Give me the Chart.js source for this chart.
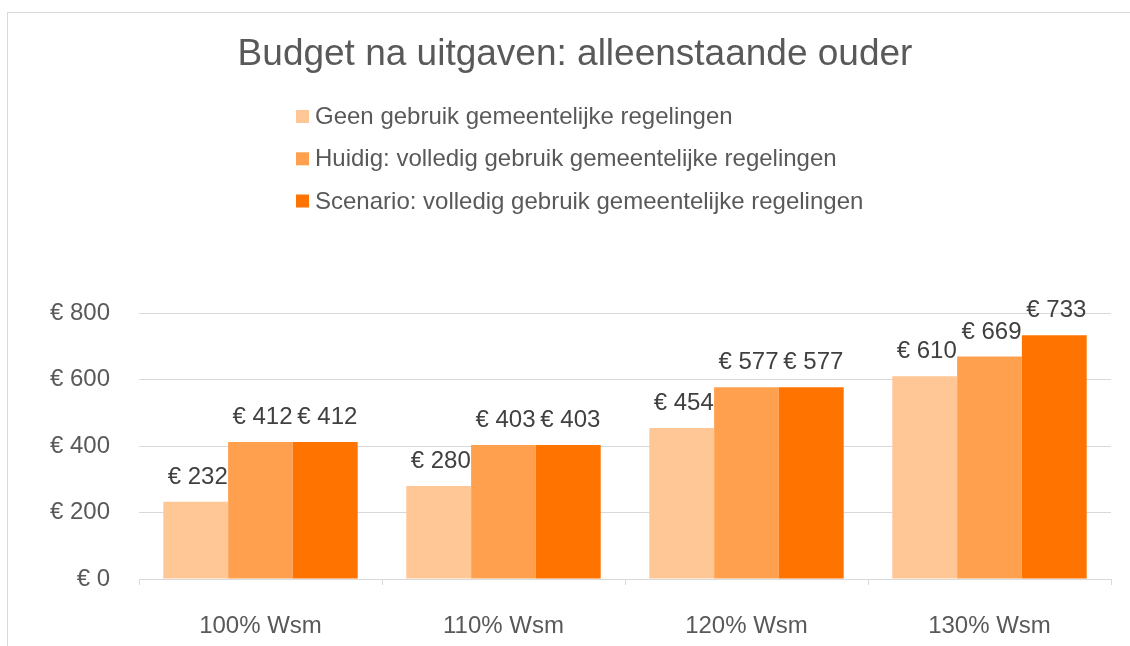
<!DOCTYPE html>
<html>
<head>
<meta charset="utf-8">
<script src="https://cdn.jsdelivr.net/npm/chart.js@4.4.1/dist/chart.umd.min.js"></script>
<style>
  html, body { margin: 0; padding: 0; background: #ffffff; overflow: hidden; }
  #frame { position: absolute; left: 7px; top: 12px; width: 1300px; height: 800px; border: 1px solid #d9d9d9; box-sizing: border-box; }
  #wrap { position: absolute; left: 0; top: 0; width: 1130px; height: 646px; }
</style>
</head>
<body>
<div id="frame"></div>
<div id="wrap"><canvas id="c" width="1130" height="646"></canvas></div>
<script>
const titleText = 'Budget na uitgaven: alleenstaande ouder';
const categories = ['100% Wsm', '110% Wsm', '120% Wsm', '130% Wsm'];
const seriesNames = [
  'Geen gebruik gemeentelijke regelingen',
  'Huidig: volledig gebruik gemeentelijke regelingen',
  'Scenario: volledig gebruik gemeentelijke regelingen'
];
const geenValues = [232, 280, 454, 610];
const huidigValues = [412, 403, 577, 669];
const scenarioValues = [412, 403, 577, 733];
const yTicks = [0, 200, 400, 600, 800];
const colors = ['#FFC796', '#FFA04F', '#FF7300'];

const FONT = '"Liberation Sans", Arial, sans-serif';

const overlay = {
  id: 'overlay',
  afterDatasetsDraw(chart) {
    const ctx = chart.ctx;
    ctx.save();
    ctx.font = '24px ' + FONT;
    ctx.fillStyle = '#404040';
    ctx.textAlign = 'center';
    ctx.textBaseline = 'alphabetic';
    chart.data.datasets.forEach((ds, i) => {
      const meta = chart.getDatasetMeta(i);
      meta.data.forEach((bar, j) => {
        ctx.fillText('€ ' + ds.data[j], bar.x + 2, bar.y - 18);
      });
    });
    ctx.restore();
  },
  afterDraw(chart) {
    const ctx = chart.ctx;
    ctx.save();
    // title
    ctx.font = '37px ' + FONT;
    ctx.fillStyle = '#595959';
    ctx.textAlign = 'center';
    ctx.textBaseline = 'alphabetic';
    ctx.fillText(titleText, 575, 65);
    // legend
    ctx.font = '24px ' + FONT;
    ctx.textAlign = 'left';
    ctx.textBaseline = 'alphabetic';
    const baselines = [124, 166.3, 208.5];
    chart.data.datasets.forEach((ds, i) => {
      const by = baselines[i];
      ctx.fillStyle = ds.backgroundColor;
      ctx.fillRect(296, by - 14, 13, 13);
      ctx.fillStyle = '#595959';
      ctx.fillText(ds.label, 315, by);
    });
    ctx.restore();
  }
};

new Chart(document.getElementById('c'), {
  type: 'bar',
  data: {
    labels: categories,
    datasets: [
      { label: seriesNames[0], data: geenValues, backgroundColor: colors[0] },
      { label: seriesNames[1], data: huidigValues, backgroundColor: colors[1] },
      { label: seriesNames[2], data: scenarioValues, backgroundColor: colors[2] }
    ]
  },
  options: {
    responsive: false,
    animation: false,
    layout: { padding: { top: 313, right: 19, bottom: 0, left: 0 } },
    datasets: { bar: { barPercentage: 1.0, categoryPercentage: 0.8 } },
    plugins: {
      legend: { display: false },
      title: { display: false },
      tooltip: { enabled: false }
    },
    scales: {
      x: {
        grid: { display: true, drawOnChartArea: false, drawTicks: true, tickLength: 6, color: '#d9d9d9', offset: true },
        border: { display: true, color: '#d9d9d9' },
        ticks: { color: '#595959', font: { size: 24, family: FONT }, padding: 27, maxRotation: 0 },
        afterFit(scale) { scale.height = 67; }
      },
      y: {
        min: 0, max: 800,
        afterBuildTicks(scale) { scale.ticks = yTicks.map(v => ({ value: v })); },
        grid: { color: '#d9d9d9', drawTicks: false },
        border: { display: false },
        ticks: { color: '#595959', font: { size: 24, family: FONT }, padding: 29, callback: v => '€ ' + v },
        afterFit(scale) { scale.width = 139; }
      }
    }
  },
  plugins: [overlay]
});
</script>
</body>
</html>
